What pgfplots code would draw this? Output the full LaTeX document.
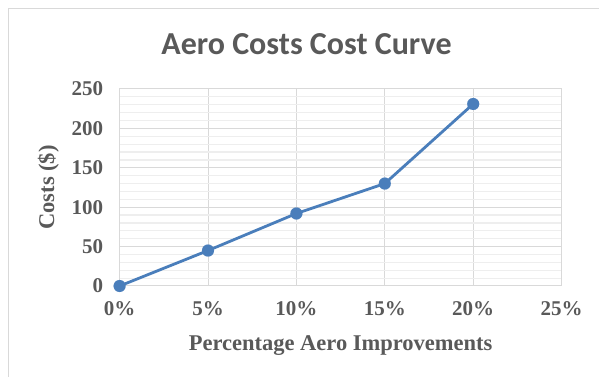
\documentclass[border=0pt]{standalone}
\usepackage{fontspec}
\setmainfont{Liberation Serif}
\newfontfamily\titlefont{Carlito}
\usepackage{pgfplots}
\pgfplotsset{compat=1.18}
\definecolor{txt}{HTML}{595959}
\definecolor{ser}{HTML}{4A7EBB}
\definecolor{gmaj}{HTML}{D9D9D9}
\definecolor{gmin}{HTML}{EEEEEE}
\begin{document}
\begin{tikzpicture}[x=1pt,y=1pt]
\path[use as bounding box] (0,0) rectangle (599,377);
\draw[gmaj, line width=1pt] (8,0)--(8,368)--(599,368);
\node[anchor=base, font=\titlefont\bfseries\fontsize{32}{38}\selectfont, text=txt] at (306.5,322) {Aero Costs Cost Curve};
\begin{axis}[at={(119.6pt,91pt)}, anchor=south west, scale only axis,
  width=442pt, height=197pt,
  xmin=0, xmax=25, ymin=0, ymax=250,
  xtick={0,5,...,25}, xticklabels={0\%,5\%,10\%,15\%,20\%,25\%},
  ytick={0,50,...,250}, minor y tick num=4,
  grid=both,
  major grid style={gmaj, line width=1pt},
  minor grid style={gmin, line width=1.2pt},
  axis line style={gmaj, line width=1pt},
  tick style={draw=none},
  ticklabel style={font=\bfseries\fontsize{21}{25}\selectfont, text=txt},
  xticklabel style={yshift=-12pt},
  yticklabel style={xshift=-13pt},
  /pgf/number format/assume math mode=true,
  xlabel={Percentage Aero Improvements},
  ylabel={Costs (\$)},
  label style={font=\bfseries\fontsize{22.5}{27}\selectfont, text=txt},
  xlabel style={anchor=base, at={(axis description cs:0.5,-0.325)}},
  ylabel style={anchor=center, at={(axis description cs:-0.161,0.5)}},
]
\addplot[ser, line width=2.8pt, mark=*, mark size=6pt, mark options={fill=ser, draw=ser, line width=0.1pt}]
  coordinates {(0,0) (5,45) (10,92) (15,130) (20,231)};
\end{axis}
\end{tikzpicture}
\end{document}
